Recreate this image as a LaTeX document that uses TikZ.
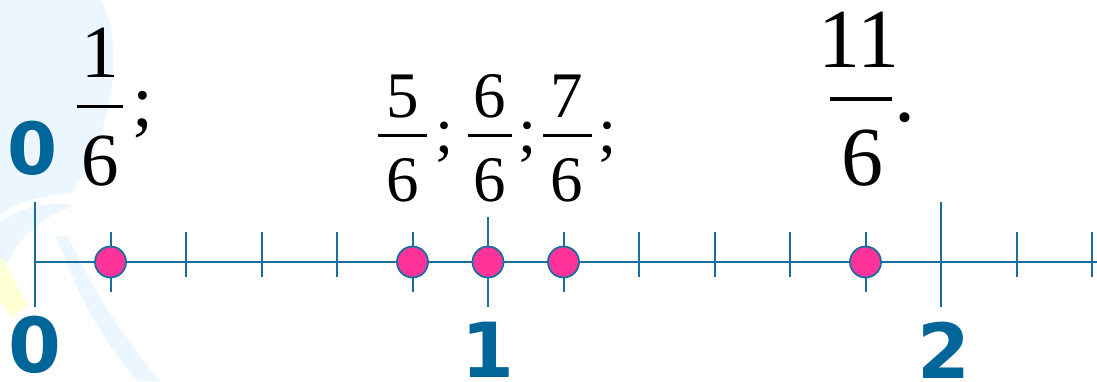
\documentclass[tikz,border=0pt]{standalone}
\usepackage{fontspec}
\newfontfamily\fracfont{Liberation Serif}
\newfontfamily\numfont{DejaVu Sans}
\definecolor{linha}{RGB}{25,110,160}
\definecolor{azul}{RGB}{0,102,153}
\definecolor{rosa}{RGB}{255,51,153}
\definecolor{fundo}{RGB}{236,246,254}
\definecolor{amarelo}{RGB}{255,255,212}
\tikzset{
  traco/.style={linha, line width=2pt},
  ponto/.style={circle, draw=linha, line width=1.8pt, fill=rosa, minimum size=31pt, inner sep=0pt},
  rotulo/.style={azul, inner sep=0pt, font=\numfont\bfseries\fontsize{76}{76}\selectfont},
  frc/.style={anchor=base, inner sep=0pt, text=black},
  barra/.style={line width=3pt}
}
\begin{document}
\begin{tikzpicture}[x=1pt,y=-1pt]
    % 1. VARIAVEIS
    \def\O{35}    % posicao do zero
    \def\P{75.5}  % passo de um sexto
    \def\Y{262}   % altura da reta

    \useasboundingbox (0,0) rectangle (1097,381);

    % ==========================================
    % 2. FUNDO
    % ==========================================
    \fill[fundo] (0,0) -- (100,0) .. controls (125,40) and (115,130) .. (72,192)
        .. controls (50,196) and (20,198) .. (0,215) -- cycle;
    \fill[fundo] (0,222) .. controls (25,205) and (55,200) .. (74,206)
        .. controls (45,215) and (20,235) .. (8,262) -- (0,262) -- cycle;
    \fill[fundo] (56,236) .. controls (80,300) and (105,345) .. (138,381)
        -- (160,381) .. controls (125,340) and (92,290) .. (68,236) -- cycle;
    \fill[amarelo] (0,256) -- (28,305) -- (12,318) -- (0,300) -- cycle;

    % ==========================================
    % 3. RETA NUMERICA
    % ==========================================
    \draw[traco, line width=2.4pt] (\O,\Y) -- (1097,\Y);
    \foreach \k in {2,3,4,8,9,10,13,14}
        \draw[traco] ({\O+\k*\P},232) -- ({\O+\k*\P},277);
    \foreach \k in {1,5,7,11}
        \draw[traco] ({\O+\k*\P},232) -- ({\O+\k*\P},292);
    % marcas dos inteiros
    \draw[traco] (\O,202) -- (\O,307);
    \draw[traco] ({\O+6*\P},217) -- ({\O+6*\P},307);
    \draw[traco] ({\O+12*\P},202) -- ({\O+12*\P},307);

    % pontos marcados
    \foreach \k/\n in {1/a,5/b,6/c,7/d,11/e}
        \node[ponto] (p\n) at ({\O+\k*\P},\Y) {};

    % ==========================================
    % 4. ROTULOS
    % ==========================================
    \node[rotulo, font=\numfont\bfseries\fontsize{72}{72}\selectfont] (zeroA) at (33,148.5) {0};
    \node[rotulo] (zeroB) at (35,345) {0};
    \node[rotulo] (um) at (488,350) {1};
    \node[rotulo] (dois) at (944,350) {2};

    % fracoes
    \begin{scope}[every node/.append style={frc, font=\fracfont\fontsize{75}{75}\selectfont}]
        \node (n1) at (100,77) {1};
        \node (d1) at (100,185) {6};
        \node (s1) at (143,126) {;};
        \draw[barra] (77,106) -- (123,106);
    \end{scope}
    \begin{scope}[every node/.append style={frc, font=\fracfont\fontsize{65}{65}\selectfont}]
        \node (n5) at (403,117) {5};
        \node (d5) at (403,201) {6};
        \node (s5) at (445,152) {;};
        \draw[barra] (378,135) -- (427,135);
        \node (n6) at (490,117) {6};
        \node (d6) at (490,201) {6};
        \node (s6) at (528,152) {;};
        \draw[barra] (468,135) -- (512,135);
        \node (n7) at (567,117) {7};
        \node (d7) at (567,201) {6};
        \node (s7) at (608,152) {;};
        \draw[barra] (543,135) -- (592,135);
    \end{scope}
    \begin{scope}[every node/.append style={frc, font=\fracfont\fontsize{84}{84}\selectfont}]
        \node (n11) at (859,67) {11};
        \node (d11) at (862,185) {6};
        \node (s11) at (905,121) {.};
        \draw[barra, line width=3.4pt] (830,99) -- (892,99);
    \end{scope}
\end{tikzpicture}
\end{document}
